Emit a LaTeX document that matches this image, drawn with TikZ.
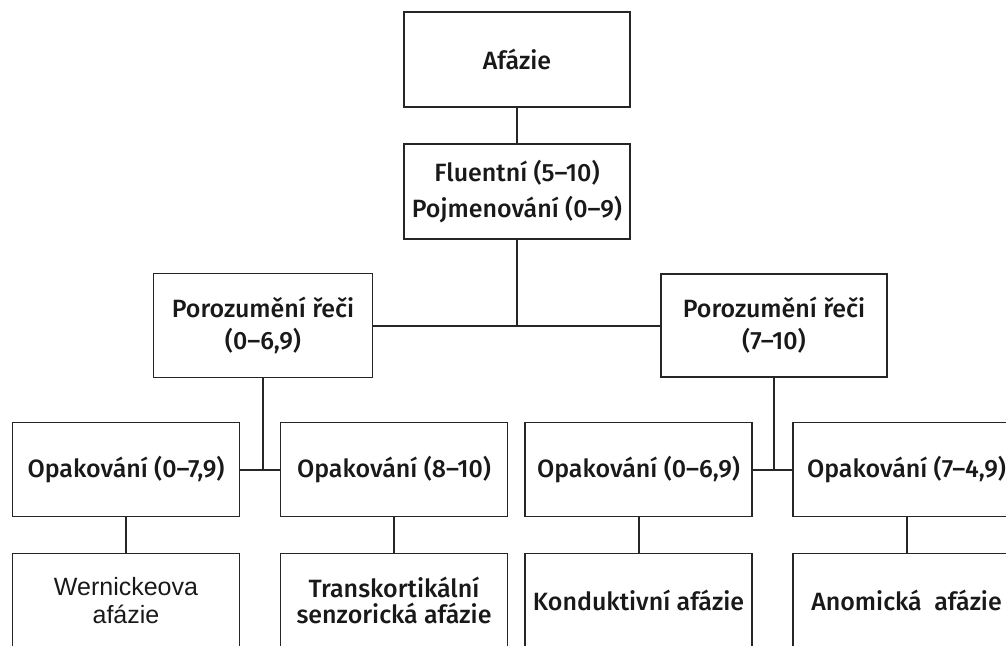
\documentclass[tikz,border=0pt]{standalone}
\usepackage{fontspec}
\setmainfont{Fira Sans}[UprightFont=* Medium]
\newfontfamily\arialfont{Liberation Sans}
\tikzstyle{box} = [rectangle, draw=black!85, line width=0.6pt, text=black!90,
    align=center, minimum width=113.5pt, minimum height=47pt, inner sep=0pt,
    font=\fontsize{12.5}{16}\selectfont]
\tikzstyle{line} = [draw=black!85, line width=1pt]

\begin{document}
\begin{tikzpicture}[x=0.5pt, y=0.5pt, node distance=66pt]
	\useasboundingbox (0,0) rectangle (1006,-645);
	\clip (0,0) rectangle (1006,-645);

	\node [box, minimum width=113pt, minimum height=47.5pt] (afazie) at (517,-59.5) {Afázie};
	\node [box, below of=afazie, minimum width=113pt, minimum height=47.5pt] (fluent) {Fluentní (5–10)\\[2pt]Pojmenování (0–9)};

	\node [box, below of=fluent, node distance=67pt, xshift=-127pt, minimum width=109.5pt, minimum height=52pt] (porl) {Porozumění řeči\\(0–6,9)};
	\node [box, below of=fluent, node distance=67pt, xshift=128.5pt, minimum width=113pt, minimum height=51.5pt] (porr) {Porozumění řeči\\(7–10)};

	\node [box, below of=porl, node distance=72pt, xshift=-68.5pt] (opal1) {Opakování (0–7,9)};
	\node [box, below of=porl, node distance=72pt, xshift=65.5pt] (opal2) {Opakování (8–10)};
	\node [box, below of=porr, node distance=72pt, xshift=-67.75pt] (opar1) {Opakování (0–6,9)};
	\node [box, below of=porr, node distance=72pt, xshift=66.25pt] (opar2) {Opakování (7–4,9)};

	\node [box, below of=opal1, node distance=65.5pt, font=\arialfont\fontsize{12.5}{14}\selectfont] (wernicke) {Wernickeova\\afázie};
	\node [box, below of=opal2, node distance=65.5pt, font=\fontsize{12.5}{13}\selectfont] (transk) {Transkortikální\\senzorická afázie};
	\node [box, below of=opar1, node distance=65.5pt] (kondukt) {Konduktivní afázie};
	\node [box, below of=opar2, node distance=65.5pt] (anomic) {Anomická\ \ afázie};

	\path [line] (afazie) -- (fluent);
	\path [line] (fluent) -- (fluent |- porl);
	\path [line] (porl) -- (porr);

	\path [line] (porl) -- (porl |- opal1);
	\path [line] (opal1) -- (opal2);
	\path [line] (porr) -- (porr |- opar1);
	\path [line] (opar1) -- (opar2);

	\path [line] (opal1) -- (wernicke);
	\path [line] (opal2) -- (transk);
	\path [line] (opar1) -- (kondukt);
	\path [line] (opar2) -- (anomic);
\end{tikzpicture}
\end{document}
